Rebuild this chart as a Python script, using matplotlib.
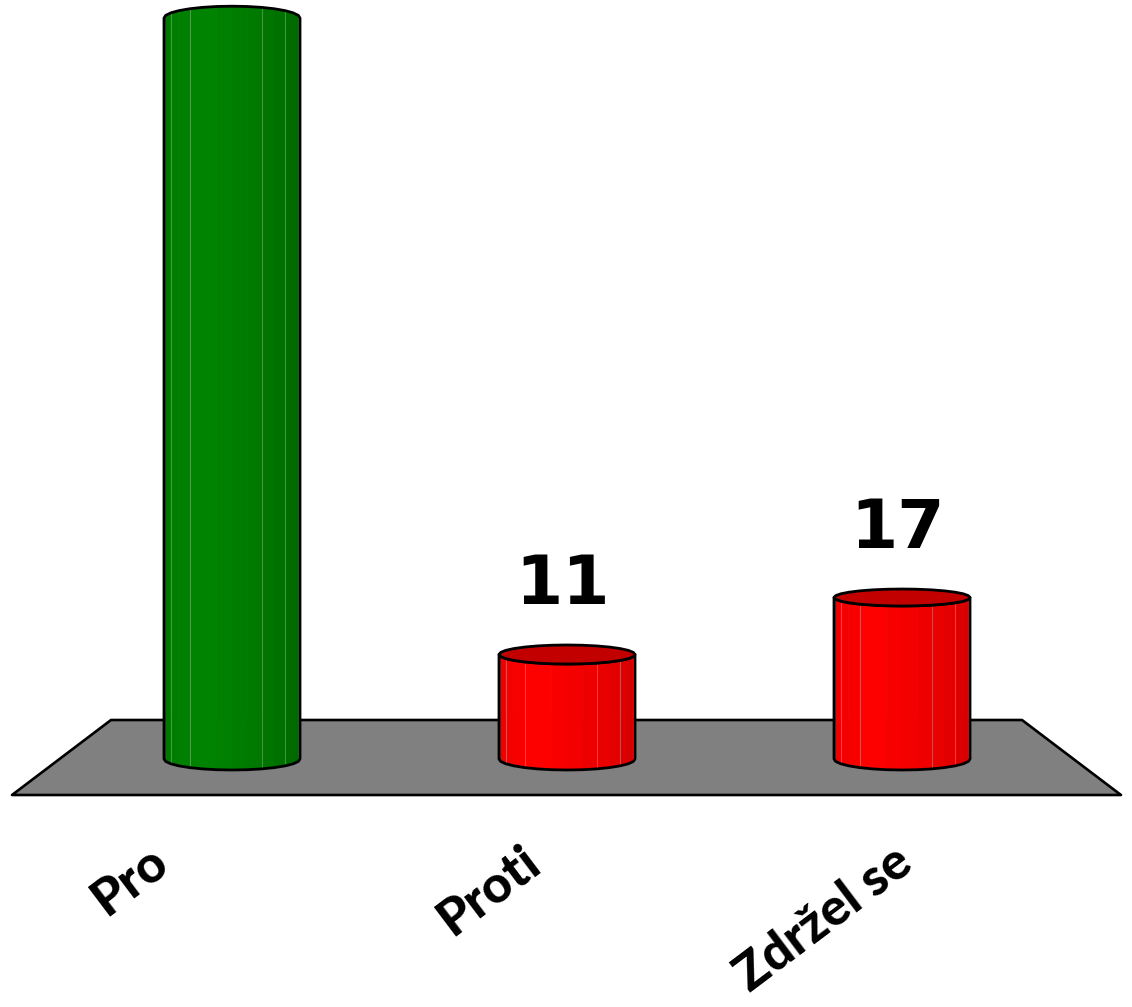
import numpy as np
import matplotlib
matplotlib.use("Agg")
import matplotlib.pyplot as plt
from matplotlib.patches import Polygon

# ── Data ─────────────────────────────────────
categories = ["Pro", "Proti", "Zdržel se"]
values = [78, 11, 17]
bar_colors = ["green", "red", "red"]

# ── Geometry (pixels of a 1132x1007 canvas) ──
W, H = 1132, 1007
PX_X = 335.0          # px per category step
PX_Y = 9.5            # px per unit of value
X0_PX, Y0_PX = 232, 759
HALF_W = 68 / PX_X    # cylinder half width (category units)

fig = plt.figure(figsize=(W / 100, H / 100), dpi=100)
ax = fig.add_axes([0, 0, 1, 1])
ax.set_xlim(-X0_PX / PX_X, (W - X0_PX) / PX_X)
ax.set_ylim(-(H - Y0_PX) / PX_Y, Y0_PX / PX_Y)
ax.axis("off")


def px(xp, yp):
    """pixel -> data"""
    return (xp - X0_PX) / PX_X, (Y0_PX - yp) / PX_Y


# ── Floor ────────────────────────────────────
floor = [px(111, 720), px(1022, 720), px(1121, 795), px(12, 795)]
ax.add_patch(Polygon(floor, closed=True, facecolor="#808080",
                     edgecolor="black", linewidth=1.9, zorder=1,
                     joinstyle="round"))

# ── Palettes ─────────────────────────────────
shades = {
    "green": dict(light=(0, 0.52, 0), dark=(0, 0.38, 0),
                  left=(0, 0.45, 0), top=(0, 0.40, 0)),
    "red": dict(light=(1.0, 0, 0), dark=(0.80, 0, 0),
                left=(0.90, 0, 0), top=(0.76, 0, 0)),
}


def ell_h(y_val):
    # apparent half-height of the ellipse (perspective: flattens with height)
    yp = y_val * PX_Y
    pix = 11 - 0.0113 * yp - 2.63e-5 * yp ** 2
    return pix / PX_Y


def strip_color(pal, f):
    # f: 0 (left edge) .. 1 (right edge)
    l, d, e = np.array(pal["light"]), np.array(pal["dark"]), np.array(pal["left"])
    peak = 0.35
    if f < peak:
        return tuple(e + (l - e) * (f / peak))
    return tuple(l + (d - l) * ((f - peak) / (1 - peak)) ** 1.2)


def draw_cylinder(xc, val, cname):
    pal = shades[cname]
    eb = ell_h(0)
    et = ell_h(val)
    n = 14
    ts = np.linspace(np.pi, 2 * np.pi, n + 1)
    xs = xc + HALF_W * np.cos(ts)
    yb = 0 + eb * np.sin(ts)
    yt = val + et * np.sin(ts)
    for i in range(n):
        f = (i + 0.5) / n
        poly = [(xs[i], yb[i]), (xs[i + 1], yb[i + 1]),
                (xs[i + 1], yt[i + 1]), (xs[i], yt[i])]
        ax.add_patch(Polygon(poly, closed=True, facecolor=strip_color(pal, f),
                             edgecolor=strip_color(pal, f), linewidth=0.6,
                             zorder=2))
    # faint highlight lines on some facets
    for i in (2, 4, 9, 11, 13):
        ax.plot([xs[i], xs[i]], [yb[i], yt[i]], color="white",
                alpha=0.25, linewidth=0.8, zorder=3)
    # outline of body
    outline_x = np.concatenate([xs, xs[::-1]])
    outline_y = np.concatenate([yb, yt[::-1]])
    ax.add_patch(Polygon(np.column_stack([outline_x, outline_y]), closed=True,
                         fill=False, edgecolor="black", linewidth=2.0,
                         zorder=4, joinstyle="round"))
    # top face (only if seen from above)
    if et > 0:
        tt = np.linspace(0, 2 * np.pi, 2 * n + 1)
        tx = xc + HALF_W * np.cos(tt)
        ty = val + et * np.sin(tt)
        ax.add_patch(Polygon(np.column_stack([tx, ty]), closed=True,
                             facecolor=pal["top"], edgecolor="black",
                             linewidth=2.0, zorder=5, joinstyle="round"))


for i, (v, c) in enumerate(zip(values, bar_colors)):
    draw_cylinder(i, v, c)
    if v < 60:  # the tall bar's label falls outside the picture
        ax.annotate(str(v), (i, v), xytext=(-4, 50), textcoords="offset pixels",
                    ha="center", va="baseline", fontsize=49,
                    fontweight="bold", family="DejaVu Sans", zorder=6)

# ── Category labels (rotated, perspective on the floor's front edge) ──
for i, lab in enumerate(categories):
    cx_px = X0_PX + i * PX_X
    ax_px = cx_px + (cx_px - 567) * 0.11 - 24
    xd, yd = px(ax_px, 868)
    ax.text(xd, yd, lab, rotation=37, rotation_mode="anchor",
            ha="right", va="baseline", fontsize=37, fontweight="black",
            family=["Lato", "DejaVu Sans"])

fig.savefig("out.png", dpi=100)
